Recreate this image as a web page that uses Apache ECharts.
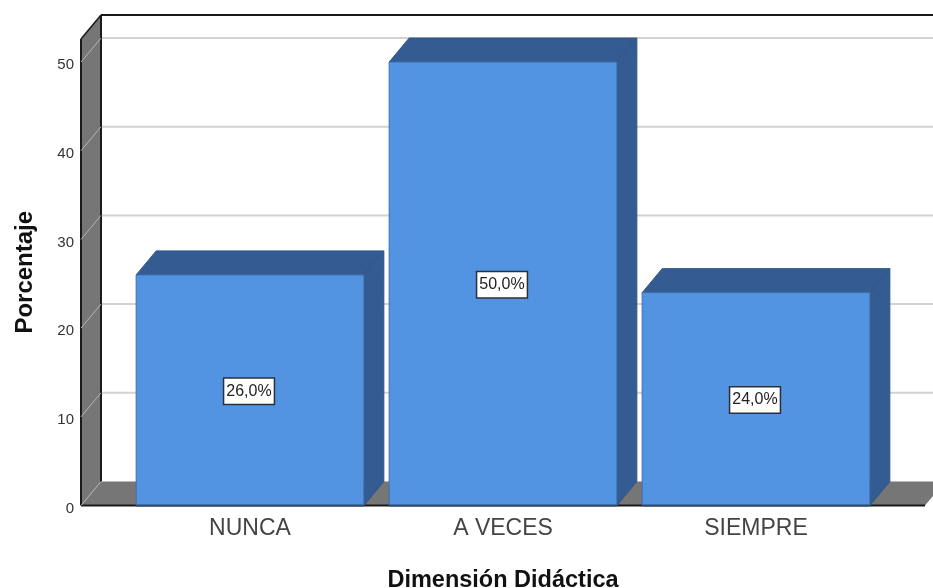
<!DOCTYPE html>
<html>
<head>
<meta charset="utf-8">
<style>html,body{margin:0;padding:0;background:#fff}#c{width:933px;height:588px}</style>
<script src="https://cdn.jsdelivr.net/npm/echarts@6/dist/echarts.min.js"></script>
</head>
<body>
<div id="c"></div>
<script>
const categories = ['NUNCA', 'A VECES', 'SIEMPRE'];
const percentages = [26, 50, 24];
const yTicks = [0, 10, 20, 30, 40, 50];
const yMax = 52.6;

const DX = 20, DY = 24;
const FONT = '"Liberation Sans", Arial, sans-serif';
const WALL = '#767676', FRONT = '#5294e2', SHADE = '#345c92', INK = '#1a1a1a';

const chart = echarts.init(document.getElementById('c'), null, {renderer: 'canvas'});

function poly(points, fill, stroke, lw) {
  return {type: 'polygon', shape: {points}, style: {fill, stroke: stroke || null, lineWidth: lw || 0}};
}
function line(x1, y1, x2, y2, stroke, lw) {
  return {type: 'line', shape: {x1, y1, x2, y2}, style: {stroke, lineWidth: lw}};
}

function renderWalls(params, api) {
  const top = api.coord([0, yMax])[1];
  const bot = api.coord([0, 0])[1];
  const xL = params.coordSys.x - 42.5;
  const xR = 925;
  return {type: 'group', children: [
    poly([[xL, top], [xL + DX, top - DY], [xL + DX, bot - DY], [xL, bot]], WALL),
    poly([[xL, bot], [xL + DX, bot - DY], [xR + DX, bot - DY], [xR, bot]], WALL),
    line(xL + DX, top - DY, 933, top - DY, INK, 2),
    line(xL, top, xL + DX, top - DY, INK, 1.5),
    line(xL, top, xL, bot, INK, 2),
    line(xL + DX, top - DY, xL + DX, bot - DY, INK, 2),
    line(xL, bot, xR, bot, INK, 2)
  ]};
}

function renderGrid(params, api) {
  const y = api.coord([0, api.value(0)])[1];
  const xL = params.coordSys.x - 42.5;
  const kids = [line(xL, y, xL + DX, y - DY, '#b4b4b4', 1)];
  if (api.value(0) > 0) kids.push(line(xL + DX + 1, y - DY, 933, y - DY, '#d2d2d2', 2));
  return {type: 'group', children: kids};
}

function renderBar(params, api) {
  const c = api.coord([api.value(0), api.value(1)]);
  const base = api.coord([api.value(0), 0])[1];
  const w = api.size([1, 0])[0] * 0.9;
  const l = c[0] - w / 2, r = c[0] + w / 2, t = c[1];
  const edge = '#3f6fae';
  const label = api.value(1).toFixed(1).replace('.', ',') + '%';
  return {type: 'group', children: [
    poly([[l, t], [l + DX, t - DY], [r + DX, t - DY], [r, t]], SHADE, '#2f5587', 1),
    poly([[r, t], [r + DX, t - DY], [r + DX, base - DY], [r, base]], SHADE, '#2f5587', 1),
    {type: 'rect', shape: {x: l, y: t, width: w, height: base - t},
     style: {fill: FRONT, stroke: edge, lineWidth: 1}},
    line(l, base, r, base, '#2f4a70', 2),
    {type: 'text', x: c[0] - 1, y: (t + base) / 2 + 1, style: {
      text: label, font: '16px ' + FONT, fill: '#222', align: 'center', verticalAlign: 'middle',
      backgroundColor: '#fff', borderColor: '#2b3038', borderWidth: 1.5,
      padding: [5, 2, 4, 2]
    }}
  ]};
}

chart.setOption({
  animation: false,
  backgroundColor: '#fff',
  grid: {left: 123.5, width: 759, top: 39, height: 466.5, outerBoundsMode: 'none'},
  xAxis: {
    type: 'category', data: categories,
    axisLine: {show: false}, axisTick: {show: false},
    axisLabel: {fontFamily: FONT, fontSize: 23, color: '#444', margin: 12},
    name: 'Dimensión Didáctica', nameLocation: 'middle', nameGap: 63,
    nameTextStyle: {fontFamily: FONT, fontSize: 23.5, fontWeight: 'bold', color: '#111'}
  },
  yAxis: {
    type: 'value', min: 0, max: yMax, interval: 10, offset: 42.5,
    axisLine: {show: false}, axisTick: {show: false}, splitLine: {show: false},
    axisLabel: {fontFamily: FONT, fontSize: 15, color: '#333', margin: 7,
      verticalAlign: 'top', lineHeight: 6, customValues: yTicks},
    name: 'Porcentaje', nameLocation: 'middle', nameGap: 44, nameRotate: 90,
    nameTextStyle: {fontFamily: FONT, fontSize: 24, fontWeight: 'bold', color: '#111'}
  },
  series: [
    {type: 'custom', coordinateSystem: 'cartesian2d', data: [[0, 0]], renderItem: renderWalls, silent: true, z: 1},
    {type: 'custom', coordinateSystem: 'cartesian2d', data: yTicks.map(v => [v]), encode: {y: 0}, renderItem: renderGrid, silent: true, z: 2},
    {type: 'custom', coordinateSystem: 'cartesian2d',
     data: categories.map((c, i) => [i, percentages[i]]), encode: {x: 0, y: 1}, renderItem: renderBar, z: 3}
  ]
});
</script>
</body>
</html>
